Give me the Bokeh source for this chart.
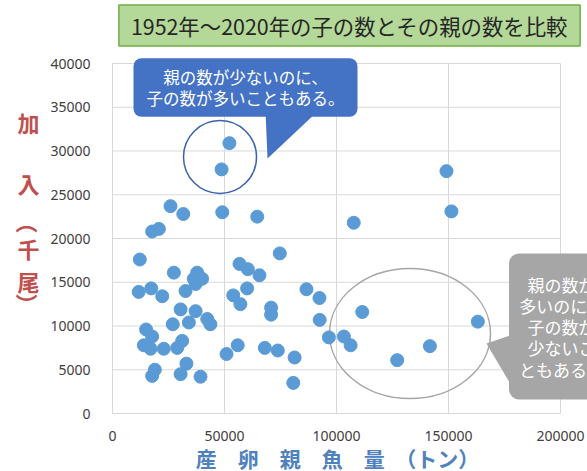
import math
from bokeh.plotting import figure
from bokeh.models import Range1d, FixedTicker, BasicTickFormatter, Label, ColumnDataSource, PolyAnnotation
from bokeh.embed import file_html
from bokeh.resources import INLINE

# ---- data ----
ssb = [25900, 31600, 49000, 64600, 107700, 17700, 20700, 12200, 74700, 27400,
       56700, 60400, 65600, 37800, 36300, 40000, 37100, 11700, 17300, 22200,
       32600, 60100, 53900, 57100, 86600, 92400, 70800, 70800, 30400, 37100,
       42300, 43700, 26900, 34100, 92500, 15000, 17700, 14000, 17000, 22900,
       31100, 28900, 33000, 30400, 39300, 18900, 17700, 50900, 55900, 68000,
       73800, 81300, 80700, 96600, 103300, 106300, 111500, 163100, 141700, 127100,
       52200, 48700, 149100, 151300]
recruit = [23700, 22800, 23000, 22500, 21800, 20800, 21100, 17600, 18300, 16100,
           17100, 16500, 15800, 16100, 15400, 15400, 14800, 13900, 14300, 13400,
           14000, 14300, 13500, 12500, 14200, 13200, 12100, 11300, 11900, 11700,
           10800, 10200, 10200, 10400, 10700, 9600, 8800, 7800, 7400, 7400,
           8300, 7500, 5700, 4500, 4200, 5000, 4300, 6800, 7800, 7500,
           7200, 6400, 3500, 8700, 8800, 7800, 11600, 10500, 7700, 6100,
           30900, 27900, 27700, 23100]
x_ticks = [0, 50000, 100000, 150000, 200000]
y_ticks = [0, 5000, 10000, 15000, 20000, 25000, 30000, 35000, 40000]

title_text = "1952年～2020年の子の数とその親の数を比較"
x_title = "産　卵　親　魚　量　（トン）"
y_title_chars = ["加", "入", "（", "千", "尾", "）"]
note1 = "親の数が少ないのに、\n子の数が多いこともある。"
note2 = "親の数が\n多いのに、\n子の数が\n少ないこ\nともある。"

JP = "Noto Sans CJK JP"

# ---- layout (picture pixels) ----
W, H = 587, 471
FL, FR, FT, FB = 112, 560, 63, 413   # data area (0..200000, 0..40000) edges
XMAX, YMAX = 200000, 40000
KX = XMAX / (FR - FL)
KY = YMAX / (FB - FT)

def dx(px):
    return (px - FL) * KX

def dy(py):
    return (FB - py) * KY

p = figure(width=W, height=H, output_backend="svg", toolbar_location=None,
           x_range=Range1d(dx(0), dx(W)), y_range=Range1d(dy(H), dy(0)),
           min_border=0)
p.background_fill_color = "white"
p.border_fill_color = "white"
p.outline_line_color = None
p.grid.visible = False

# grid lines of the data area (from the tick lists)
p.segment(x0=x_ticks, x1=x_ticks, y0=[0] * len(x_ticks), y1=[YMAX] * len(x_ticks),
          line_color="#d9d9d9", line_width=1)
p.segment(x0=[0] * len(y_ticks), x1=[XMAX] * len(y_ticks), y0=y_ticks, y1=y_ticks,
          line_color="#d9d9d9", line_width=1)

for ax, ticks in ((p.xaxis, x_ticks), (p.yaxis, y_ticks)):
    ax.fixed_location = 0
    ax.ticker = FixedTicker(ticks=ticks)
    ax.formatter = BasicTickFormatter(use_scientific=False)
    ax.axis_line_color = None
    ax.major_tick_line_color = None
    ax.minor_tick_line_color = None
    ax.major_label_text_font = "Noto Sans"
    ax.major_label_text_font_size = "14px"
    ax.major_label_text_color = "#404040"
p.xaxis.major_label_standoff = 11
p.yaxis.major_label_standoff = 16

# ellipses
p.ellipse(x=[dx(219.5)], y=[dy(156.5)], width=[73 * KX], height=[73 * KY],
          fill_color=None, line_color="#3a62ad", line_width=1.5)
p.ellipse(x=[dx(409.5)], y=[dy(333)], width=[161 * KX], height=[130 * KY],
          fill_color=None, line_color="#a6a6a6", line_width=1.5)

# points
src = ColumnDataSource(data=dict(x=ssb, y=recruit))
p.scatter("x", "y", source=src, size=13, fill_color="#5b9bd5", line_color="#5b9bd5")

# callout pointers
p.add_layout(PolyAnnotation(xs=[dx(265), dx(318), dx(267)], ys=[dy(110), dy(110), dy(158)],
                            fill_color="#4472c4", fill_alpha=1, line_color=None))
p.add_layout(PolyAnnotation(xs=[dx(515), dx(486), dx(515)], ys=[dy(333), dy(343), dy(392)],
                            fill_color="#a6a6a6", fill_alpha=1, line_color=None))

# callout boxes (padding = (horizontal, vertical))
p.add_layout(Label(x=dx(245), y=dy(87), text=note1, text_align="center", text_baseline="middle",
                   text_font=JP, text_font_size="16.5px", text_color="white", text_line_height=0.86,
                   background_fill_color="#4472c4", padding=(13, 7), border_radius=8))
p.add_layout(Label(x=dx(561), y=dy(326), text=note2, text_align="center", text_baseline="middle",
                   text_font=JP, text_font_size="17px", text_color="white", text_line_height=0.85,
                   background_fill_color="#a6a6a6", padding=(10, 18), border_radius=10))

# title box
p.add_layout(Label(x=dx(349), y=dy(25), text=title_text, text_align="center", text_baseline="middle",
                   text_font=JP, text_font_size="21.4px", text_color="#262626",
                   background_fill_color="#b3d898", border_line_color="#70ad47", border_line_width=1.5,
                   padding=(12, 5)))

# axis titles
p.add_layout(Label(x=dx(337), y=dy(457), text=x_title, text_align="center", text_baseline="middle",
                   text_font=JP, text_font_size="21px", text_font_style="bold", text_color="#4f81bd"))
# vertical title: brackets are turned a quarter turn, as in vertical writing
y_pos = [121, 182, 222, 247, 280, 304]
y_ang = [0, 0, -math.pi / 2, 0, 0, -math.pi / 2]
for ch, yy, ang in zip(y_title_chars, y_pos, y_ang):
    p.add_layout(Label(x=dx(28), y=dy(yy), text=ch, angle=ang, text_align="center",
                       text_baseline="middle", text_font=JP, text_font_size="22px",
                       text_font_style="bold", text_color="#c0504d"))

open("out.html", "w").write(file_html(p, INLINE))
